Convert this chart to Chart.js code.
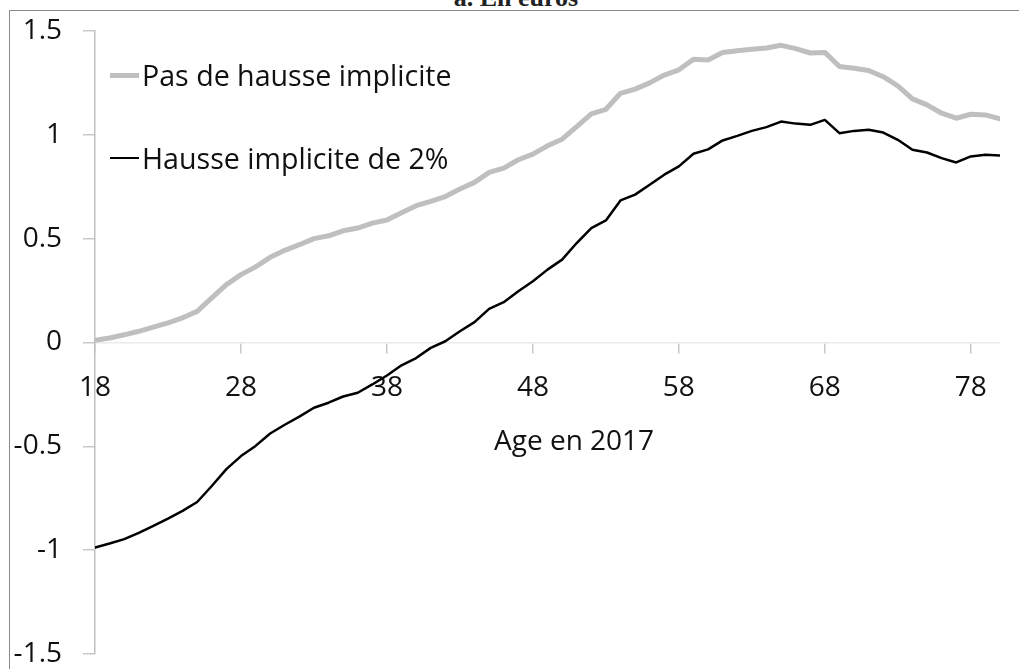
<!DOCTYPE html>
<html>
<head>
<meta charset="utf-8">
<script src="https://cdn.jsdelivr.net/npm/chart.js@4"></script>
<style>
  body { margin: 0; background: #fff; }
  #wrap { position: relative; width: 1019px; height: 669px; overflow: hidden; background: #fff; font-family: 'Open Sans', sans-serif; }
  #frame { position: absolute; left: 9px; top: 10px; width: 1100px; height: 800px; border-left: 1.5px solid #8a8a8a; border-top: 1.5px solid #8a8a8a; }
  #title { position: absolute; left: 0; width: 1032px; top: -15px; text-align: center; font: bold 26px 'Liberation Serif', serif; line-height: 26px; color: #222; }
  .leg { position: absolute; left: 110px; height: 28px; line-height: 28px; display: flex; align-items: center; font-size: 28.6px; color: #111; white-space: nowrap; }
  .leg span.swatch { display: inline-block; width: 29px; margin-right: 3px; }
  #xtitle { position: absolute; left: 494px; top: 425px; font-size: 28px; line-height: 28px; color: #111; white-space: nowrap; }
  canvas { position: absolute; left: 0; top: 0; }
</style>
</head>
<body>
<div id="wrap">
  <div id="frame"></div>
  <div id="title">a. En euros</div>
  <canvas id="chart" width="1019" height="669"></canvas>
  <div class="leg" style="top:61px"><span class="swatch" style="height:5px;background:#bfbfbf"></span>Pas de hausse implicite</div>
  <div class="leg" style="top:144px"><span class="swatch" style="height:2.5px;background:#000"></span>Hausse implicite de 2%</div>
  <div id="xtitle">Age en 2017</div>
</div>
<script>
const ages = [];
for (let a = 18; a <= 80; a++) ages.push(a);

const xTicks = [18, 28, 38, 48, 58, 68, 78];

// Pas de hausse implicite (grey)
const sansHausse = [
  0.011, 0.022, 0.037, 0.054, 0.074, 0.095, 0.119, 0.150, 0.215, 0.279,
  0.327, 0.364, 0.410, 0.444, 0.471, 0.500, 0.514, 0.538, 0.551, 0.575,
  0.590, 0.625, 0.659, 0.680, 0.703, 0.739, 0.771, 0.819, 0.840, 0.880,
  0.907, 0.947, 0.979, 1.040, 1.101, 1.123, 1.200, 1.220, 1.250, 1.288,
  1.313, 1.364, 1.360, 1.396, 1.405, 1.412, 1.418, 1.431, 1.415, 1.394,
  1.397, 1.329, 1.321, 1.310, 1.280, 1.236, 1.173, 1.144, 1.104, 1.080,
  1.099, 1.096, 1.077
];

// Hausse implicite de 2% (black)
const hausse2 = [
  -0.987, -0.968, -0.947, -0.917, -0.883, -0.848, -0.811, -0.768, -0.691, -0.610,
  -0.547, -0.498, -0.438, -0.396, -0.357, -0.314, -0.290, -0.260, -0.242, -0.202,
  -0.159, -0.110, -0.075, -0.026, 0.006, 0.054, 0.098, 0.162, 0.194, 0.247,
  0.295, 0.351, 0.399, 0.479, 0.551, 0.588, 0.684, 0.712, 0.760, 0.808,
  0.848, 0.909, 0.930, 0.973, 0.995, 1.019, 1.037, 1.064, 1.054, 1.048,
  1.072, 1.008, 1.019, 1.024, 1.011, 0.976, 0.928, 0.915, 0.888, 0.867,
  0.896, 0.904, 0.900
];

const tickFont = { family: 'Open Sans', size: 28 };

new Chart(document.getElementById('chart'), {
  type: 'line',
  data: {
    labels: ages,
    datasets: [
      { label: 'Pas de hausse implicite', data: sansHausse, borderColor: '#bfbfbf', borderWidth: 5 },
      { label: 'Hausse implicite de 2%', data: hausse2, borderColor: '#000', borderWidth: 2.5 }
    ]
  },
  options: {
    responsive: false,
    animation: false,
    devicePixelRatio: 1,
    layout: { padding: { left: 0, top: 31, right: 19, bottom: 15 } },
    elements: {
      point: { radius: 0 },
      line: { tension: 0, borderJoinStyle: 'round', borderCapStyle: 'round', fill: false }
    },
    plugins: { legend: { display: false }, tooltip: { enabled: false } },
    scales: {
      x: {
        type: 'linear',
        min: 18,
        max: 80,
        position: { y: 0 },
        afterBuildTicks: scale => { scale.ticks = xTicks.map(v => ({ value: v })); },
        afterFit: scale => { scale.paddingLeft = 0; scale.paddingRight = 0; },
        grid: { drawOnChartArea: false, color: '#c8c8c8', tickLength: 10, lineWidth: 1.5 },
        border: { color: '#ececec', width: 1.5 },
        ticks: { autoSkip: false, maxRotation: 0, padding: 19, color: '#111', font: tickFont }
      },
      y: {
        min: -1.5,
        max: 1.5,
        afterFit: scale => { scale.width = 95; scale.paddingTop = 0; scale.paddingBottom = 0; },
        grid: { drawOnChartArea: false, color: '#c8c8c8', tickLength: 12, lineWidth: 1.5 },
        border: { color: '#c0c0c0', width: 1.5 },
        ticks: { stepSize: 0.5, padding: 21, color: '#111', font: tickFont, callback: v => String(v) }
      }
    }
  }
});
</script>
</body>
</html>
